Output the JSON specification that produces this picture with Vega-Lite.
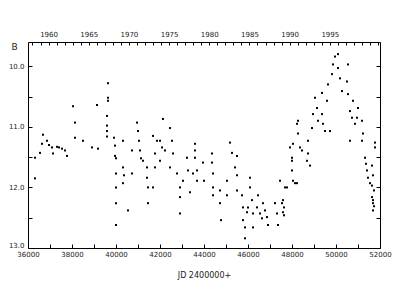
{
  "$schema": "https://vega.github.io/schema/vega-lite/v6.json",
  "width": 352,
  "height": 206,
  "autosize": "none",
  "padding": {"left": 28, "top": 42, "right": 20, "bottom": 52},
  "background": "white",
  "config": {
    "view": {"stroke": null},
    "axis": {"labelFont": "DejaVu Sans", "titleFont": "DejaVu Sans", "labelFontSize": 7, "titleFontSize": 8, "labelColor": "#222", "titleColor": "#222", "domainColor": "black", "tickColor": "black", "grid": false, "titleFontWeight": "normal"}
  },
  "datasets": {
    "obs": [
      {"jd": 36318, "mag": 11.51}, {"jd": 36545, "mag": 11.43}, {"jd": 36682, "mag": 11.13}, {"jd": 36636, "mag": 11.28},
      {"jd": 36864, "mag": 11.23}, {"jd": 36955, "mag": 11.30}, {"jd": 37091, "mag": 11.34}, {"jd": 37136, "mag": 11.44},
      {"jd": 37318, "mag": 11.33}, {"jd": 37409, "mag": 11.34}, {"jd": 37545, "mag": 11.36}, {"jd": 37682, "mag": 11.39},
      {"jd": 37773, "mag": 11.48}, {"jd": 36318, "mag": 11.85}, {"jd": 38045, "mag": 10.66}, {"jd": 38136, "mag": 10.93},
      {"jd": 38136, "mag": 11.18}, {"jd": 39636, "mag": 10.28}, {"jd": 39636, "mag": 10.52}, {"jd": 39636, "mag": 10.57},
      {"jd": 39136, "mag": 10.64}, {"jd": 39591, "mag": 10.82}, {"jd": 39591, "mag": 10.98}, {"jd": 39591, "mag": 11.07},
      {"jd": 39591, "mag": 11.16}, {"jd": 38500, "mag": 11.23}, {"jd": 38909, "mag": 11.34}, {"jd": 39182, "mag": 11.36},
      {"jd": 39909, "mag": 11.18}, {"jd": 39955, "mag": 11.31}, {"jd": 39955, "mag": 11.48}, {"jd": 40000, "mag": 11.52},
      {"jd": 40000, "mag": 11.77}, {"jd": 40000, "mag": 12.00}, {"jd": 40000, "mag": 12.26}, {"jd": 40000, "mag": 12.62},
      {"jd": 40318, "mag": 11.23}, {"jd": 40318, "mag": 11.67}, {"jd": 40364, "mag": 11.80}, {"jd": 40318, "mag": 11.93},
      {"jd": 40545, "mag": 12.38}, {"jd": 40727, "mag": 11.39}, {"jd": 40727, "mag": 11.77}, {"jd": 40955, "mag": 10.93},
      {"jd": 41000, "mag": 11.07}, {"jd": 41045, "mag": 11.23}, {"jd": 41091, "mag": 11.39}, {"jd": 41136, "mag": 11.52},
      {"jd": 41227, "mag": 11.56}, {"jd": 41409, "mag": 11.67}, {"jd": 41409, "mag": 11.84}, {"jd": 41455, "mag": 12.00},
      {"jd": 41455, "mag": 12.26}, {"jd": 41682, "mag": 12.00}, {"jd": 41682, "mag": 11.15}, {"jd": 41773, "mag": 11.44},
      {"jd": 41773, "mag": 11.67}, {"jd": 41864, "mag": 11.23}, {"jd": 42000, "mag": 11.23}, {"jd": 42000, "mag": 11.56},
      {"jd": 42136, "mag": 10.87}, {"jd": 42091, "mag": 11.34}, {"jd": 42227, "mag": 11.39}, {"jd": 42455, "mag": 11.02},
      {"jd": 42545, "mag": 11.23}, {"jd": 42455, "mag": 11.67}, {"jd": 42591, "mag": 11.44}, {"jd": 42773, "mag": 11.77},
      {"jd": 42909, "mag": 12.00}, {"jd": 42909, "mag": 12.16}, {"jd": 42909, "mag": 12.43}, {"jd": 43045, "mag": 11.89},
      {"jd": 43227, "mag": 11.51}, {"jd": 43273, "mag": 11.72}, {"jd": 43364, "mag": 12.08}, {"jd": 43500, "mag": 11.77},
      {"jd": 43591, "mag": 11.39}, {"jd": 43682, "mag": 11.72}, {"jd": 43591, "mag": 11.28}, {"jd": 43591, "mag": 11.51},
      {"jd": 43682, "mag": 11.89}, {"jd": 44000, "mag": 11.89}, {"jd": 43955, "mag": 11.59}, {"jd": 44364, "mag": 11.44},
      {"jd": 44364, "mag": 11.59}, {"jd": 44409, "mag": 11.77}, {"jd": 44409, "mag": 12.00}, {"jd": 44409, "mag": 12.13},
      {"jd": 44727, "mag": 12.05}, {"jd": 44727, "mag": 12.26}, {"jd": 44773, "mag": 12.54}, {"jd": 45045, "mag": 11.89},
      {"jd": 45045, "mag": 12.13}, {"jd": 45182, "mag": 11.26}, {"jd": 45273, "mag": 11.43}, {"jd": 45500, "mag": 11.48},
      {"jd": 45409, "mag": 11.67}, {"jd": 45500, "mag": 11.80}, {"jd": 45500, "mag": 12.05}, {"jd": 45727, "mag": 12.13},
      {"jd": 45773, "mag": 12.33}, {"jd": 45773, "mag": 12.54}, {"jd": 45864, "mag": 12.66}, {"jd": 45955, "mag": 12.41},
      {"jd": 46000, "mag": 12.33}, {"jd": 46091, "mag": 12.00}, {"jd": 46091, "mag": 11.84}, {"jd": 46182, "mag": 12.21},
      {"jd": 46227, "mag": 12.43}, {"jd": 46227, "mag": 12.66}, {"jd": 46409, "mag": 12.33}, {"jd": 46455, "mag": 12.13},
      {"jd": 46545, "mag": 12.43}, {"jd": 46636, "mag": 12.51}, {"jd": 46682, "mag": 12.26}, {"jd": 46773, "mag": 12.38},
      {"jd": 46864, "mag": 12.49}, {"jd": 46909, "mag": 12.62}, {"jd": 47227, "mag": 12.26}, {"jd": 47318, "mag": 12.43},
      {"jd": 47364, "mag": 12.62}, {"jd": 47591, "mag": 12.21}, {"jd": 47636, "mag": 12.33}, {"jd": 47636, "mag": 12.46},
      {"jd": 47682, "mag": 12.00}, {"jd": 45864, "mag": 12.84}, {"jd": 47909, "mag": 11.34}, {"jd": 48000, "mag": 11.56},
      {"jd": 48000, "mag": 11.72}, {"jd": 48045, "mag": 11.89}, {"jd": 48227, "mag": 10.95}, {"jd": 48273, "mag": 11.11},
      {"jd": 48364, "mag": 11.34}, {"jd": 48227, "mag": 11.93}, {"jd": 48727, "mag": 11.23}, {"jd": 48727, "mag": 11.44},
      {"jd": 48818, "mag": 11.64}, {"jd": 47455, "mag": 11.89}, {"jd": 47545, "mag": 12.26}, {"jd": 47591, "mag": 12.41},
      {"jd": 47773, "mag": 12.00}, {"jd": 48000, "mag": 11.51}, {"jd": 48045, "mag": 11.28}, {"jd": 48136, "mag": 11.93},
      {"jd": 48273, "mag": 10.90}, {"jd": 48455, "mag": 11.39}, {"jd": 48682, "mag": 11.56}, {"jd": 48909, "mag": 11.02},
      {"jd": 48955, "mag": 10.79}, {"jd": 49045, "mag": 10.52}, {"jd": 49136, "mag": 10.69}, {"jd": 49182, "mag": 10.90},
      {"jd": 49364, "mag": 10.44}, {"jd": 49364, "mag": 10.79}, {"jd": 49409, "mag": 10.95}, {"jd": 49500, "mag": 11.07},
      {"jd": 49591, "mag": 10.57}, {"jd": 49636, "mag": 10.30}, {"jd": 49727, "mag": 11.07}, {"jd": 49818, "mag": 10.13},
      {"jd": 49864, "mag": 9.97}, {"jd": 49955, "mag": 9.84}, {"jd": 50091, "mag": 9.80}, {"jd": 50091, "mag": 10.03},
      {"jd": 50182, "mag": 10.20}, {"jd": 50273, "mag": 10.41}, {"jd": 50500, "mag": 10.25}, {"jd": 50545, "mag": 10.46},
      {"jd": 50545, "mag": 9.97}, {"jd": 50636, "mag": 10.74}, {"jd": 50727, "mag": 10.85}, {"jd": 50773, "mag": 10.57},
      {"jd": 50864, "mag": 10.95}, {"jd": 50955, "mag": 10.85}, {"jd": 51000, "mag": 10.69}, {"jd": 51182, "mag": 10.90},
      {"jd": 51227, "mag": 11.11}, {"jd": 51182, "mag": 11.23}, {"jd": 50636, "mag": 11.23}, {"jd": 51318, "mag": 11.51},
      {"jd": 51364, "mag": 11.61}, {"jd": 51409, "mag": 11.72}, {"jd": 51455, "mag": 11.84}, {"jd": 51545, "mag": 11.93},
      {"jd": 51636, "mag": 12.16}, {"jd": 51682, "mag": 12.26}, {"jd": 51682, "mag": 12.38}, {"jd": 51773, "mag": 11.26},
      {"jd": 51773, "mag": 11.34}, {"jd": 51636, "mag": 11.64}, {"jd": 51682, "mag": 11.80}, {"jd": 51636, "mag": 11.97},
      {"jd": 51727, "mag": 12.05}, {"jd": 51682, "mag": 12.21}, {"jd": 51727, "mag": 12.31}
    ],
    "years": [{"year": 1960, "mag": 10}]
  },
  "layer": [
    {
      "data": {"name": "obs"},
      "mark": {"type": "point", "shape": "square", "filled": true, "size": 4, "color": "black", "opacity": 1},
      "encoding": {
        "x": {"field": "jd", "type": "quantitative", "scale": {"domain": [36000, 52000], "nice": false, "zero": false},
          "axis": {"title": "JD 2400000+", "titleFontSize": 8, "titlePadding": 14, "values": [36000,37000,38000,39000,40000,41000,42000,43000,44000,45000,46000,47000,48000,49000,50000,51000,52000],
            "labelExpr": "datum.value % 2000 == 0 ? format(datum.value, 'd') : ''", "tickSize": -4, "labelPadding": 6, "labelFlush": false}},
        "y": {"field": "mag", "type": "quantitative", "scale": {"domain": [9.6, 13.0], "reverse": true, "nice": false, "zero": false},
          "axis": {"title": "B", "titleAngle": 0, "titleX": -14, "titleY": 4, "titleAlign": "center", "titleBaseline": "middle", "titleFontSize": 9,
            "values": [10, 10.5, 11, 11.5, 12, 12.5, 13], "labelExpr": "datum.value % 1 == 0 ? format(datum.value, '.1f') : ''", "tickSize": -4, "labelPadding": 8, "labelFlush": true, "labelFlushOffset": 0}}
      }
    },
    {
      "data": {"name": "years"},
      "mark": {"type": "point", "opacity": 0},
      "encoding": {
        "x": {"field": "year", "type": "quantitative", "scale": {"domain": [1957.443, 2001.249], "nice": false, "zero": false},
          "axis": {"orient": "top", "title": null, "values": [1958,1959,1960,1961,1962,1963,1964,1965,1966,1967,1968,1969,1970,1971,1972,1973,1974,1975,1976,1977,1978,1979,1980,1981,1982,1983,1984,1985,1986,1987,1988,1989,1990,1991,1992,1993,1994,1995,1996,1997,1998,1999,2000,2001],
            "labelExpr": "datum.value % 5 == 0 && datum.value < 2000 ? format(datum.value, 'd') : ''", "tickSize": -3, "labelPadding": 8, "labelFlush": false}},
        "y": {"field": "mag", "type": "quantitative", "scale": {"domain": [9.6, 13.0], "reverse": true, "nice": false, "zero": false},
          "axis": {"orient": "right", "title": null, "values": [10, 10.5, 11, 11.5, 12, 12.5, 13], "labels": false, "tickSize": -4}}
      }
    }
  ],
  "resolve": {"scale": {"x": "independent", "y": "independent"}}
}
